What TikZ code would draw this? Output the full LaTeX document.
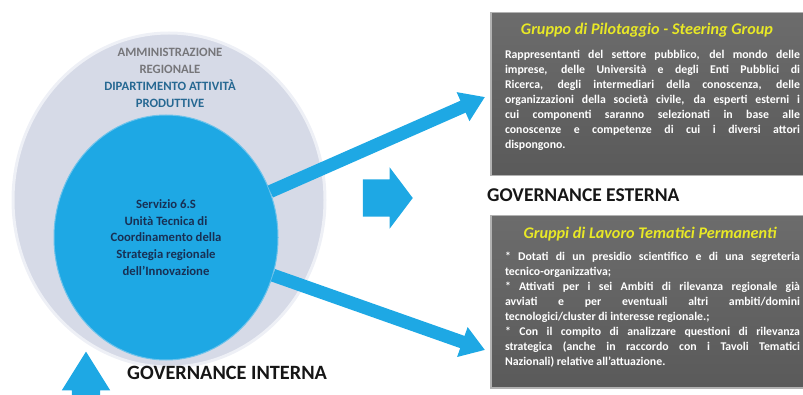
\documentclass[tikz,border=0pt]{standalone}
\usepackage{fontspec}
\setmainfont{Carlito}
\usetikzlibrary{arrows.meta,shapes.geometric,shapes.arrows,positioning}
\definecolor{skyblue}{RGB}{30,168,228}
\definecolor{outerfill}{RGB}{214,218,231}
\definecolor{outerrim}{RGB}{238,240,246}
\definecolor{innerrim}{RGB}{110,195,235}
\definecolor{admingrey}{RGB}{118,118,122}
\definecolor{deptblue}{RGB}{38,104,146}
\definecolor{servnavy}{RGB}{24,48,84}
\definecolor{boxgrey}{RGB}{90,90,90}
\definecolor{boxtop}{RGB}{108,108,108}
\definecolor{boxrim}{RGB}{178,178,178}
\definecolor{titleyellow}{RGB}{232,232,38}
\definecolor{govtext}{RGB}{22,22,22}

\tikzset{
  govbox/.style={draw=boxrim, line width=1.5pt, top color=boxtop, bottom color=boxgrey,
    minimum width=325pt, anchor=north west, inner sep=0pt},
  boxtitle/.style={text=titleyellow, inner sep=0pt, font=\fontsize{16.2}{19}\selectfont\bfseries\itshape},
  boxbody/.style={text=white, text width=295pt, align=justify, inner sep=0pt, anchor=north,
    font=\fontsize{11.8}{15}\selectfont\bfseries},
  fatarrow/.style={skyblue, line width=13pt, -{Triangle[width=30pt,length=24pt]}},
  govlabel/.style={text=govtext, anchor=west, inner sep=0pt, font=\fontsize{19.5}{22}\selectfont\bfseries},
  blockarrow/.style={single arrow, fill=skyblue, inner xsep=0pt}
}

\begin{document}
\begin{tikzpicture}[x=1pt, y=-1pt]
\useasboundingbox (0,0) rectangle (803,395);

\node[ellipse, fill=outerfill, draw=outerrim, line width=3pt, minimum width=312pt, minimum height=334pt] (regione) at (169,200) {};
\node[align=center, inner sep=0pt, font=\fontsize{12.7}{17}\selectfont\bfseries] (dipartimento) at (170,78)
  {\textcolor{admingrey}{AMMINISTRAZIONE}\\ \textcolor{admingrey}{REGIONALE}\\
   \textcolor{deptblue}{DIPARTIMENTO ATTIVITÀ}\\ \textcolor{deptblue}{PRODUTTIVE}};

\coordinate (steertip) at (485,97);
\coordinate (worktip) at (485,350);

\node[ellipse, fill=skyblue, draw=innerrim, line width=1pt, minimum width=224pt, minimum height=245pt,
  align=center, text=servnavy, font=\fontsize{12.7}{16.7}\selectfont\bfseries] (servizio) at (166,237.5)
  {Servizio 6.S\\ Unità Tecnica di\\ Coordinamento della\\ Strategia regionale\\ dell’Innovazione};

\draw[fatarrow] (servizio) -- (steertip);
\draw[fatarrow] (servizio) -- (worktip);

\node[blockarrow, anchor=tip, inner ysep=18.5pt, minimum height=50pt, single arrow head extend=12pt,
  single arrow tip angle=106] (esternaarrow) at (413,198) {};
\node[blockarrow, rotate=90, inner ysep=14pt, minimum height=44pt, single arrow head extend=10pt,
  single arrow tip angle=64] (internaarrow) at (86,385) {};

\node[govbox, minimum height=163pt] (steering) at (490,12) {};
\node[boxtitle] (steertitle) at (647,30) {Gruppo di Pilotaggio - Steering Group};
\node[boxbody] (steerbody) at (652.5,50)
  {Rappresentanti del settore pubblico, del mondo delle\linebreak
   imprese, delle Università e degli Enti Pubblici di\linebreak
   Ricerca, degli intermediari della conoscenza, delle\linebreak
   organizzazioni della società civile, da esperti esterni i\linebreak
   cui componenti saranno selezionati in base alle\linebreak
   conoscenze e competenze di cui i diversi attori\linebreak
   dispongono.};

\node[govlabel] (esterna) at (487,195) {GOVERNANCE ESTERNA};

\node[govbox, minimum height=172pt] (gruppi) at (490,215) {};
\node[boxtitle] (gruppititle) at (650,234) {Gruppi di Lavoro Tematici Permanenti};
\node[boxbody] (gruppibody) at (652.5,252)
  {* Dotati di un presidio scientifico e di una segreteria\linebreak
   tecnico-organizzativa;\par
   * Attivati per i sei Ambiti di rilevanza regionale già\linebreak
   avviati e per eventuali altri ambiti/domini\linebreak
   tecnologici/cluster di interesse regionale.;\par
   * Con il compito di analizzare questioni di rilevanza\linebreak
   strategica (anche in raccordo con i Tavoli Tematici\linebreak
   Nazionali) relative all’attuazione.};

\node[govlabel, font=\fontsize{20.3}{22}\selectfont\bfseries] (interna) at (127,373) {GOVERNANCE INTERNA};

\end{tikzpicture}
\end{document}
